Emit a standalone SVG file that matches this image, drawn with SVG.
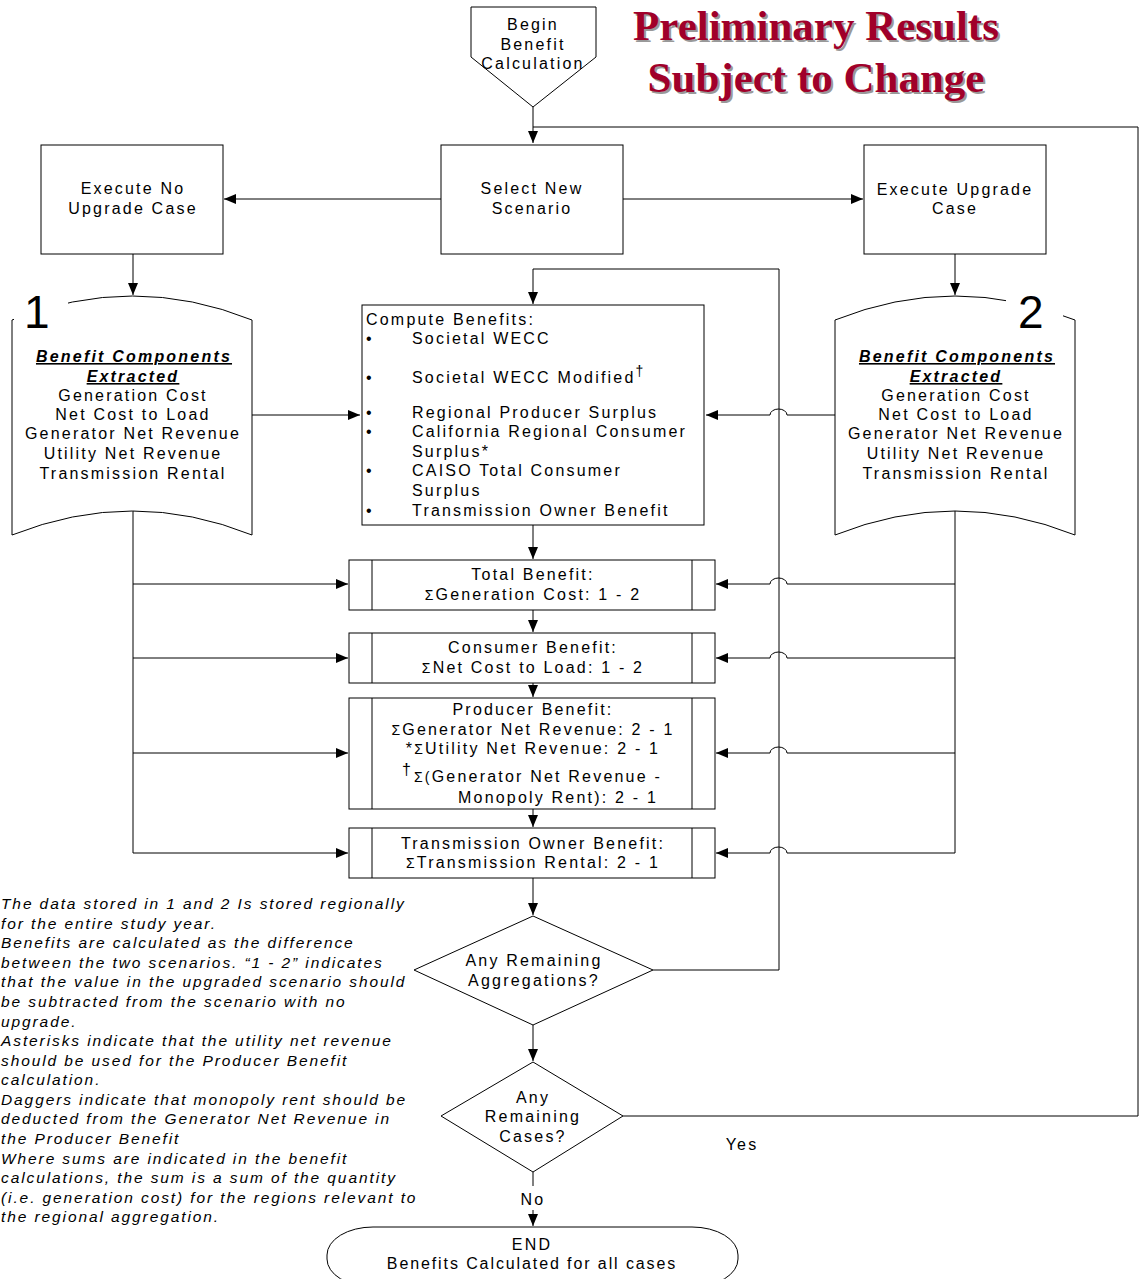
<svg xmlns="http://www.w3.org/2000/svg" width="1139" height="1279" viewBox="0 0 1139 1279">
<style>
.t{font-family:"Liberation Sans",Arial,sans-serif;font-size:16px;letter-spacing:2.2px;fill:#000}
.c{text-anchor:middle}
.bi{font-weight:bold;font-style:italic;text-decoration:underline}
.n{font-family:"Liberation Sans",Arial,sans-serif;font-size:15.5px;letter-spacing:1.9px;font-style:italic;fill:#000}
.big{font-family:"Liberation Sans",Arial,sans-serif;font-size:46px;fill:#000}
.ttl{font-family:"Liberation Serif","Times New Roman",serif;font-weight:bold;font-size:43px;text-anchor:middle}
.s{fill:#fff;stroke:#000;stroke-width:1}
.ln{fill:none;stroke:#000;stroke-width:1}
.sm{font-size:14px}
</style>
<defs>
<marker id="ah" viewBox="0 0 12 10" refX="12" refY="5" markerWidth="12" markerHeight="10" markerUnits="userSpaceOnUse" orient="auto">
<path d="M0,0 L12,5 L0,10 Z" fill="#000"/>
</marker>
</defs>
<rect width="1139" height="1279" fill="#fff"/>

<g id="title">
<text class="ttl" x="818" y="42" fill="#999">Preliminary Results</text>
<text class="ttl" x="816" y="40" fill="#a0002a">Preliminary Results</text>
<text class="ttl" x="818" y="94" fill="#999">Subject to Change</text>
<text class="ttl" x="816" y="92" fill="#a0002a">Subject to Change</text>
</g>

<g id="connectors">
<path class="ln" d="M533,107 V143" marker-end="url(#ah)"/>
<path class="ln" d="M623,1116 H1138 V127 H533"/>
<path class="ln" d="M441,199 H224" marker-end="url(#ah)"/>
<path class="ln" d="M623,199 H863" marker-end="url(#ah)"/>
<path class="ln" d="M133,254 V295" marker-end="url(#ah)"/>
<path class="ln" d="M955,254 V295" marker-end="url(#ah)"/>
<path class="ln" d="M653,970 H779 V269 H533 V304" marker-end="url(#ah)"/>
<path class="ln" d="M252,415 H360" marker-end="url(#ah)"/>
<path class="ln" d="M835,415 H787 A8.5,6 0 0 0 770,415 H706" marker-end="url(#ah)"/>
<path class="ln" d="M533,525 V559" marker-end="url(#ah)"/>
<path class="ln" d="M533,610 V632" marker-end="url(#ah)"/>
<path class="ln" d="M533,683 V697" marker-end="url(#ah)"/>
<path class="ln" d="M533,809 V827" marker-end="url(#ah)"/>
<path class="ln" d="M533,878 V915" marker-end="url(#ah)"/>
<path class="ln" d="M533,1025 V1061" marker-end="url(#ah)"/>
<path class="ln" d="M533,1172 V1186"/>
<path class="ln" d="M533,1210 V1226" marker-end="url(#ah)"/>
<path class="ln" d="M133,510 V853"/>
<path class="ln" d="M133,584 H348" marker-end="url(#ah)"/>
<path class="ln" d="M133,658 H348" marker-end="url(#ah)"/>
<path class="ln" d="M133,753 H348" marker-end="url(#ah)"/>
<path class="ln" d="M133,853 H348" marker-end="url(#ah)"/>
<path class="ln" d="M955,510 V853"/>
<path class="ln" d="M955,584 H787 A8.5,6 0 0 0 770,584 H716" marker-end="url(#ah)"/>
<path class="ln" d="M955,658 H787 A8.5,6 0 0 0 770,658 H716" marker-end="url(#ah)"/>
<path class="ln" d="M955,753 H787 A8.5,6 0 0 0 770,753 H716" marker-end="url(#ah)"/>
<path class="ln" d="M955,853 H787 A8.5,6 0 0 0 770,853 H716" marker-end="url(#ah)"/>
<text class="t c" x="742" y="1150">Yes</text>
<text class="t c" x="533" y="1205">No</text>
</g>

<g id="begin">
<polygon class="s" points="471,7 596,7 596,57 533,107 471,57"/>
<text class="t c" x="533" y="30">Begin</text>
<text class="t c" x="533" y="50">Benefit</text>
<text class="t c" x="533" y="69">Calculation</text>
</g>

<g id="no-upgrade">
<rect class="s" x="41" y="145" width="182" height="109"/>
<text class="t c" x="133" y="194">Execute No</text>
<text class="t c" x="133" y="214">Upgrade Case</text>
</g>

<g id="select">
<rect class="s" x="441" y="145" width="182" height="109"/>
<text class="t c" x="532" y="194">Select New</text>
<text class="t c" x="532" y="214">Scenario</text>
</g>

<g id="upgrade">
<rect class="s" x="864" y="145" width="182" height="109"/>
<text class="t c" x="955" y="195">Execute Upgrade</text>
<text class="t c" x="955" y="214">Case</text>
</g>

<g id="doc1">
<path class="s" d="M12,320 Q133,272 252,320 V535 Q133,487 12,535 Z"/>
<rect x="14" y="284" width="54" height="52" fill="#fff"/>
<text class="big" x="24" y="328">1</text>
<text class="t c bi" x="134" y="362"> Benefit Components</text>
<text class="t c bi" x="133" y="382">Extracted</text>
<text class="t c" x="133" y="401">Generation Cost</text>
<text class="t c" x="133" y="420">Net Cost to Load</text>
<text class="t c" x="133" y="439">Generator Net Revenue</text>
<text class="t c" x="133" y="459">Utility Net Revenue</text>
<text class="t c" x="133" y="479">Transmission Rental</text>
</g>

<g id="doc2">
<path class="s" d="M835,320 Q955,272 1075,320 V535 Q955,487 835,535 Z"/>
<rect x="1006" y="284" width="57" height="52" fill="#fff"/>
<text class="big" x="1018" y="328">2</text>
<text class="t c bi" x="957" y="362"> Benefit Components</text>
<text class="t c bi" x="956" y="382">Extracted</text>
<text class="t c" x="956" y="401">Generation Cost</text>
<text class="t c" x="956" y="420">Net Cost to Load</text>
<text class="t c" x="956" y="439">Generator Net Revenue</text>
<text class="t c" x="956" y="459">Utility Net Revenue</text>
<text class="t c" x="956" y="479">Transmission Rental</text>
</g>

<g id="compute">
<rect class="s" x="362" y="305" width="342" height="220"/>
<text class="t" x="366" y="325">Compute Benefits:</text>
<text class="t" x="366" y="344">•</text><text class="t" x="412" y="344">Societal WECC</text>
<text class="t" x="366" y="383">•</text><text class="t" x="412" y="383">Societal WECC Modified<tspan dy="-7" font-size="14">†</tspan></text>
<text class="t" x="366" y="418">•</text><text class="t" x="412" y="418">Regional Producer Surplus</text>
<text class="t" x="366" y="437">•</text><text class="t" x="412" y="437">California Regional Consumer</text>
<text class="t" x="412" y="457">Surplus*</text>
<text class="t" x="366" y="476">•</text><text class="t" x="412" y="476">CAISO Total Consumer</text>
<text class="t" x="412" y="496">Surplus</text>
<text class="t" x="366" y="516">•</text><text class="t" x="412" y="516">Transmission Owner Benefit</text>
</g>

<g id="total">
<rect class="s" x="349" y="560" width="366" height="50"/>
<path class="ln" d="M372,560 V610 M692,560 V610"/>
<text class="t c" x="533" y="580">Total Benefit:</text>
<text class="t c" x="533" y="600"><tspan class="sm">Σ</tspan>Generation Cost: 1 - 2</text>
</g>

<g id="consumer">
<rect class="s" x="349" y="633" width="366" height="50"/>
<path class="ln" d="M372,633 V683 M692,633 V683"/>
<text class="t c" x="533" y="653">Consumer Benefit:</text>
<text class="t c" x="533" y="673"><tspan class="sm">Σ</tspan>Net Cost to Load: 1 - 2</text>
</g>

<g id="producer">
<rect class="s" x="349" y="698" width="366" height="111"/>
<path class="ln" d="M372,698 V809 M692,698 V809"/>
<text class="t c" x="533" y="715">Producer Benefit:</text>
<text class="t c" x="533" y="735"><tspan class="sm">Σ</tspan>Generator Net Revenue: 2 - 1</text>
<text class="t c" x="533" y="754">*<tspan class="sm">Σ</tspan>Utility Net Revenue: 2 - 1</text>
<text class="t" x="402" y="775">†</text>
<text class="t" x="414" y="782"><tspan class="sm">Σ(</tspan>Generator Net Revenue -</text>
<text class="t" x="458" y="803">Monopoly Rent): 2 - 1</text>
</g>

<g id="transmission">
<rect class="s" x="349" y="828" width="366" height="50"/>
<path class="ln" d="M372,828 V878 M692,828 V878"/>
<text class="t c" x="533" y="849">Transmission Owner Benefit:</text>
<text class="t c" x="533" y="868"><tspan class="sm">Σ</tspan>Transmission Rental: 2 - 1</text>
</g>

<g id="agg">
<polygon class="s" points="533,916 653,970 533,1025 414,970"/>
<text class="t c" x="534" y="966">Any Remaining</text>
<text class="t c" x="534" y="986">Aggregations?</text>
</g>

<g id="cases">
<polygon class="s" points="533,1062 623,1116 533,1172 441,1116"/>
<text class="t c" x="533" y="1103">Any</text>
<text class="t c" x="533" y="1122">Remaining</text>
<text class="t c" x="533" y="1142">Cases?</text>
</g>

<g id="end">
<rect class="s" x="327" y="1227" width="411" height="60" rx="46" ry="28"/>
<text class="t c" x="532" y="1250">END</text>
<text class="t c" x="532" y="1269" style="letter-spacing:1.9px">Benefits Calculated for all cases</text>
</g>

<g id="notes">
<text class="n" x="1" y="909">The data stored in 1 and 2 Is stored regionally</text>
<text class="n" x="1" y="929">for the entire study year.</text>
<text class="n" x="1" y="948">Benefits are calculated as the difference</text>
<text class="n" x="1" y="968">between the two scenarios. “1 - 2” indicates</text>
<text class="n" x="1" y="987">that the value in the upgraded scenario should</text>
<text class="n" x="1" y="1007">be subtracted from the scenario with no</text>
<text class="n" x="1" y="1027">upgrade.</text>
<text class="n" x="1" y="1046">Asterisks indicate that the utility net revenue</text>
<text class="n" x="1" y="1066">should be used for the Producer Benefit</text>
<text class="n" x="1" y="1085">calculation.</text>
<text class="n" x="1" y="1105">Daggers indicate that monopoly rent should be</text>
<text class="n" x="1" y="1124">deducted from the Generator Net Revenue in</text>
<text class="n" x="1" y="1144">the Producer Benefit</text>
<text class="n" x="1" y="1164">Where sums are indicated in the benefit</text>
<text class="n" x="1" y="1183">calculations, the sum is a sum of the quantity</text>
<text class="n" x="1" y="1203">(i.e. generation cost) for the regions relevant to</text>
<text class="n" x="1" y="1222">the regional aggregation.</text>
</g>
</svg>
